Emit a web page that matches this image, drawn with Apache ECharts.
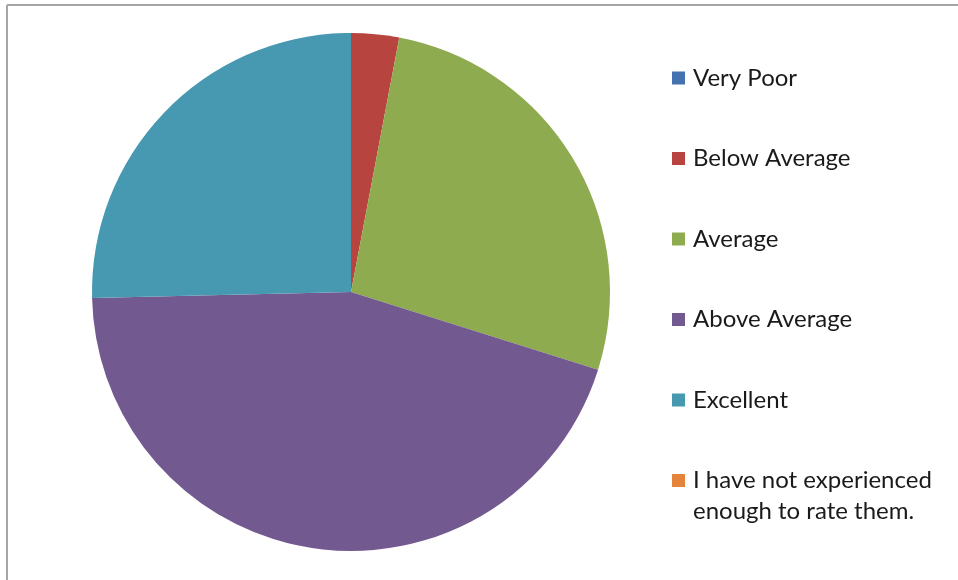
<!DOCTYPE html>
<html>
<head>
<meta charset="utf-8">
<script src="https://cdn.jsdelivr.net/npm/echarts@6/dist/echarts.min.js"></script>
<style>
  html, body { margin: 0; padding: 0; background: #fff; }
  #chart { width: 958px; height: 580px; }
</style>
</head>
<body>
<div id="chart"></div>
<script>
// Survey rating categories and response counts
const categories = [
  'Very Poor',
  'Below Average',
  'Average',
  'Above Average',
  'Excellent',
  'I have not experienced enough to rate them.'
];
const counts = [0, 2, 18, 30, 17, 0];
const colors = ['#4472b0', '#b8443f', '#8eab50', '#72598f', '#4799b1', '#e6833a'];

const FONT = 'Lato';
const FONT_SIZE = 24;

const pieData = categories.map((name, i) => ({
  name: name,
  value: counts[i],
  itemStyle: { color: colors[i] }
}));

const chart = echarts.init(document.getElementById('chart'), null, { renderer: 'canvas' });

const legendText = { fontFamily: FONT, fontSize: FONT_SIZE, color: '#1a1a1a', padding: [0, 0, 0, 3] };

chart.setOption({
  animation: false,
  backgroundColor: '#ffffff',
  graphic: [
    // frame around the chart area (top and left edges)
    { type: 'line', shape: { x1: 7, y1: 5, x2: 958, y2: 5 }, style: { stroke: '#a6a6a6', lineWidth: 2 } },
    { type: 'line', shape: { x1: 7, y1: 5, x2: 7, y2: 580 }, style: { stroke: '#a6a6a6', lineWidth: 2 } }
  ],
  legend: [
    {
      orient: 'vertical',
      left: 672,
      top: 66,
      padding: 0,
      itemWidth: 13,
      itemHeight: 13,
      itemGap: 56.5,
      icon: 'rect',
      selectedMode: false,
      data: categories.slice(0, 5),
      textStyle: legendText
    },
    {
      // long label wraps onto two lines; the leading blank line keeps the
      // swatch level with the first line of text
      orient: 'vertical',
      left: 672,
      top: 434,
      padding: 0,
      itemWidth: 13,
      itemHeight: 13,
      icon: 'rect',
      selectedMode: false,
      data: [categories[5]],
      formatter: () => ' \nI have not experienced\nenough to rate them.',
      textStyle: Object.assign({}, legendText, { lineHeight: 31 })
    }
  ],
  series: [
    {
      type: 'pie',
      center: [351, 292],
      radius: 259,
      startAngle: 90,
      clockwise: true,
      label: { show: false },
      labelLine: { show: false },
      emphasis: { disabled: true },
      itemStyle: { borderWidth: 0 },
      data: pieData
    }
  ]
});
</script>
</body>
</html>
